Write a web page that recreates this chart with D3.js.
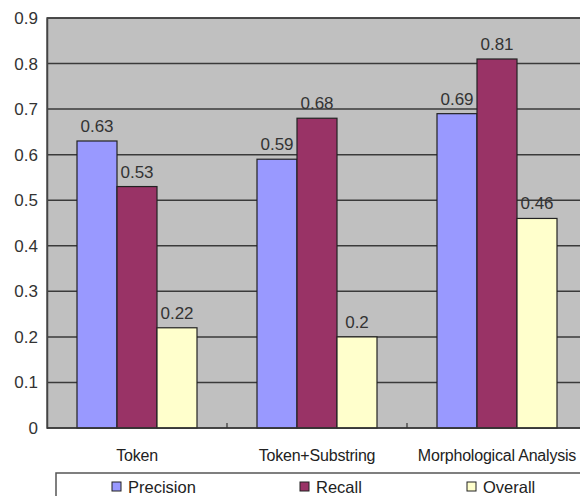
<!DOCTYPE html>
<html>
<head>
<meta charset="utf-8">
<script src="https://cdnjs.cloudflare.com/ajax/libs/d3/7.8.5/d3.min.js"></script>
<style>
  html, body { margin: 0; padding: 0; background: #fff; }
  svg { display: block; }
  text { font-family: "Liberation Sans", Arial, sans-serif; }
</style>
</head>
<body>
<svg id="chart" width="580" height="496"></svg>
<script>
// Retrieval methods compared
const categories = ["Token", "Token+Substring", "Morphological Analysis"];
const seriesNames = ["Precision", "Recall", "Overall"];
const precision = [0.63, 0.59, 0.69];
const recall = [0.53, 0.68, 0.81];
const overall = [0.22, 0.2, 0.46];
const yTicks = [0, 0.1, 0.2, 0.3, 0.4, 0.5, 0.6, 0.7, 0.8, 0.9];

const seriesValues = [precision, recall, overall];
const colors = ["#9999FF", "#993366", "#FFFFCC"];

const svg = d3.select("#chart");
const plotLeft = 47, plotRight = 587, plotTop = 18, plotBottom = 428;

const x0 = d3.scaleBand().domain(categories).range([plotLeft, plotRight]).padding(0);
const x1 = d3.scaleBand().domain(seriesNames).range([30, 150]).padding(0);
const y = d3.scaleLinear().domain([0, 0.9]).range([plotBottom, plotTop]);

// plot background
svg.append("rect")
  .attr("x", plotLeft).attr("y", plotTop)
  .attr("width", plotRight - plotLeft).attr("height", plotBottom - plotTop)
  .attr("fill", "#C0C0C0")
  .attr("stroke", "#555").attr("stroke-width", 1.5);

// horizontal gridlines
svg.append("g").selectAll("line")
  .data(yTicks.filter(d => d > 0))
  .join("line")
  .attr("x1", plotLeft).attr("x2", plotRight)
  .attr("y1", d => y(d)).attr("y2", d => y(d))
  .attr("stroke", "#3a3a3a").attr("stroke-width", 1.5);

// y axis labels
const yAxis = d3.axisLeft(y).tickValues(yTicks).tickSize(0).tickPadding(9)
  .tickFormat(d => d === 0 ? "0" : d3.format(".1f")(d));
svg.append("g")
  .attr("transform", `translate(${plotLeft},0)`)
  .call(yAxis)
  .call(g => g.select(".domain").attr("stroke", "#444").attr("stroke-width", 1.5))
  .call(g => g.selectAll("text").attr("font-size", 17).attr("fill", "#333")
    .attr("font-family", "'Liberation Sans', Arial, sans-serif"));

// bars
const groups = svg.append("g").selectAll("g")
  .data(categories)
  .join("g")
  .attr("transform", d => `translate(${x0(d)},0)`);

groups.selectAll("rect")
  .data((c, i) => seriesNames.map((s, j) => ({ s, v: seriesValues[j][i], j })))
  .join("rect")
  .attr("x", d => x1(d.s))
  .attr("width", x1.bandwidth())
  .attr("y", d => y(d.v))
  .attr("height", d => y(0) - y(d.v))
  .attr("fill", d => colors[d.j])
  .attr("stroke", "#222").attr("stroke-width", 1.2);

// value labels
groups.selectAll("text.val")
  .data((c, i) => seriesNames.map((s, j) => ({ s, v: seriesValues[j][i], j })))
  .join("text")
  .attr("class", "val")
  .attr("x", d => x1(d.s) + x1.bandwidth() / 2)
  .attr("y", d => y(d.v) - 9)
  .attr("text-anchor", "middle")
  .attr("font-size", 17)
  .attr("fill", "#333")
  .text(d => d3.format("")(d.v));

// x axis with inward category ticks
svg.append("line")
  .attr("x1", plotLeft).attr("x2", plotRight)
  .attr("y1", plotBottom).attr("y2", plotBottom)
  .attr("stroke", "#333").attr("stroke-width", 1.5);
svg.append("g").selectAll("line")
  .data(categories.slice(1))
  .join("line")
  .attr("x1", d => x0(d)).attr("x2", d => x0(d))
  .attr("y1", plotBottom).attr("y2", plotBottom - 5)
  .attr("stroke", "#333").attr("stroke-width", 1.2);

svg.append("g").selectAll("text")
  .data(categories)
  .join("text")
  .attr("x", d => x0(d) + x0.bandwidth() / 2)
  .attr("y", 461)
  .attr("text-anchor", "middle")
  .attr("font-size", 16)
  .attr("letter-spacing", -0.2)
  .attr("fill", "#222")
  .text(d => d);

// legend
const legend = svg.append("g");
legend.append("rect")
  .attr("x", 56).attr("y", 473)
  .attr("width", 540).attr("height", 40)
  .attr("fill", "#fff").attr("stroke", "#555").attr("stroke-width", 1.5);
const legendX = [112, 300, 467];
const items = legend.selectAll("g")
  .data(seriesNames)
  .join("g")
  .attr("transform", (d, i) => `translate(${legendX[i]},482)`);
items.append("rect")
  .attr("width", 9).attr("height", 9)
  .attr("fill", (d, i) => colors[i])
  .attr("stroke", "#222").attr("stroke-width", 1);
items.append("text")
  .attr("x", 16).attr("y", 11)
  .attr("font-size", 16.5)
  .attr("fill", "#222")
  .text(d => d);
</script>
</body>
</html>
